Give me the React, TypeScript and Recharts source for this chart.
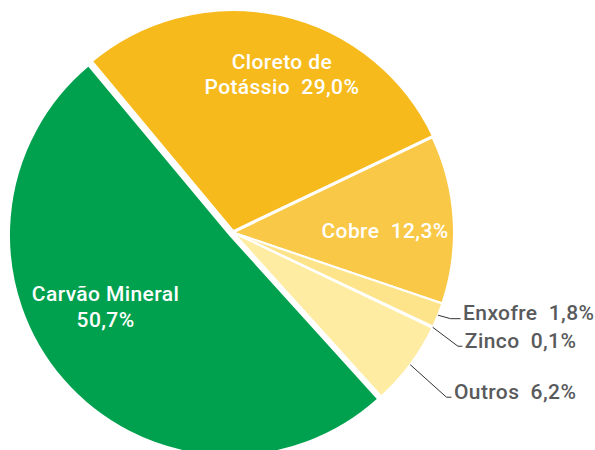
import { PieChart, Pie, Cell } from 'recharts'

const categories = ['Cloreto de Potássio', 'Cobre', 'Enxofre', 'Zinco', 'Outros', 'Carvão Mineral']
const shares = [29.0, 12.3, 1.8, 0.1, 6.2, 50.7]
const shareLabels = ['29,0%', '12,3%', '1,8%', '0,1%', '6,2%', '50,7%']
const labelLines = [
  ['Cloreto de', 'Potássio  29,0%'],
  ['Cobre  12,3%'],
  ['Enxofre  1,8%'],
  ['Zinco  0,1%'],
  ['Outros  6,2%'],
  ['Carvão Mineral', '50,7%'],
]
const colors = ['#F6BA1C', '#F9C847', '#FDE48A', '#FDE896', '#FEECA2', '#00A14E']

const data = categories.map((name, i) => ({ name, value: shares[i], label: shareLabels[i] }))

const W = 595
const H = 450
const CX = 233
const CY = 232.5
const R = 221
const START = 129.8
const RAD = Math.PI / 180

// how far a slice is pulled out of the pie
const explode: Record<string, number> = { 'Carvão Mineral': 4, 'Cloreto de Potássio': 1.5 }

// inside labels: block centre in polar coords (fraction of radius, angle)
const inside: Record<number, { r: number; a: number }> = {
  0: { r: 0.748, a: 72.8 },
  1: { r: 0.688, a: 0.6 },
  5: { r: 0.668, a: 210.3 },
}
// outside labels: elbow offset from rim point, then horizontal run
const outside: Record<number, { dx: number; dy: number; run: number }> = {
  2: { dx: 12.6, dy: 3.5, run: 10 },
  3: { dx: 25.3, dy: 19, run: 4.4 },
  4: { dx: 36.3, dy: 32.6, run: 5 },
}

const total = shares.reduce((a, b) => a + b, 0)
const midAngles = shares.map((v, i) => {
  const before = shares.slice(0, i).reduce((a, b) => a + b, 0)
  return START - ((before + v / 2) / total) * 360
})

const polar = (cx: number, cy: number, r: number, a: number) => ({
  x: cx + r * Math.cos(a * RAD),
  y: cy - r * Math.sin(a * RAD),
})

const font = {
  fontFamily: 'Roboto',
  fontWeight: 500,
  fontSize: 21,
  letterSpacing: 0.4,
}

const renderLabel = (props: any) => {
  const { cx, cy, midAngle, outerRadius, index } = props
  const lines = labelLines[index]
  if (inside[index]) {
    const p = polar(cx, cy, outerRadius * inside[index].r, inside[index].a)
    const lh = 25.5
    const y0 = p.y - ((lines.length - 1) * lh) / 2
    return (
      <text
        key={`l-${index}`}
        x={p.x}
        y={y0}
        fill="#fff"
        textAnchor="middle"
        dominantBaseline="central"
        style={{ ...font, whiteSpace: 'pre' }}
      >
        {lines.map((t, j) => (
          <tspan key={j} x={p.x} dy={j === 0 ? 0 : lh}>
            {t}
          </tspan>
        ))}
      </text>
    )
  }
  const o = outside[index]
  const s = polar(cx, cy, outerRadius, midAngle)
  const e = { x: s.x + o.dx, y: s.y + o.dy }
  const end = { x: e.x + o.run, y: e.y }
  return (
    <g key={`l-${index}`}>
      <polyline
        points={`${s.x},${s.y} ${e.x},${e.y} ${end.x},${end.y}`}
        fill="none"
        stroke="#333"
        strokeWidth={1}
      />
      <text
        x={end.x + 2.5}
        y={end.y + 1.5}
        fill="#595a5c"
        textAnchor="start"
        style={{ ...font, whiteSpace: 'pre' }}
      >
        {lines[0]}
      </text>
    </g>
  )
}

export default function App() {
  const shifted = categories.map((name, i) => {
    const d = explode[name] || 0
    return { name, ...polar(CX, CY, d, midAngles[i]) }
  })
  return (
    <div style={{ position: 'absolute', left: 0, top: 0, width: W, height: H, background: '#fff' }}>
      <PieChart width={W} height={H} margin={{ top: 0, right: 0, bottom: 0, left: 0 }}>
        {/* slices that stay in place, plus all labels */}
        <Pie
          data={data}
          dataKey="value"
          cx={CX}
          cy={CY}
          outerRadius={R}
          startAngle={START}
          endAngle={START - 360}
          stroke="#fff"
          strokeWidth={2}
          label={renderLabel}
          labelLine={false}
          isAnimationActive={false}
        >
          {data.map((d, i) => (
            <Cell
              key={i}
              fill={explode[d.name] ? 'none' : colors[i]}
              stroke={explode[d.name] ? 'none' : '#fff'}
            />
          ))}
        </Pie>
        {/* exploded slices, each drawn from its own shifted centre */}
        {shifted
          .filter((s) => explode[s.name])
          .map((s) => (
            <Pie
              key={s.name}
              data={data}
              dataKey="value"
              cx={s.x}
              cy={s.y}
              outerRadius={R}
              startAngle={START}
              endAngle={START - 360}
              stroke="#fff"
              strokeWidth={2}
              isAnimationActive={false}
            >
              {data.map((d, i) => (
                <Cell
                  key={i}
                  fill={d.name === s.name ? colors[i] : 'none'}
                  stroke={d.name === s.name ? '#fff' : 'none'}
                />
              ))}
            </Pie>
          ))}
      </PieChart>
    </div>
  )
}
